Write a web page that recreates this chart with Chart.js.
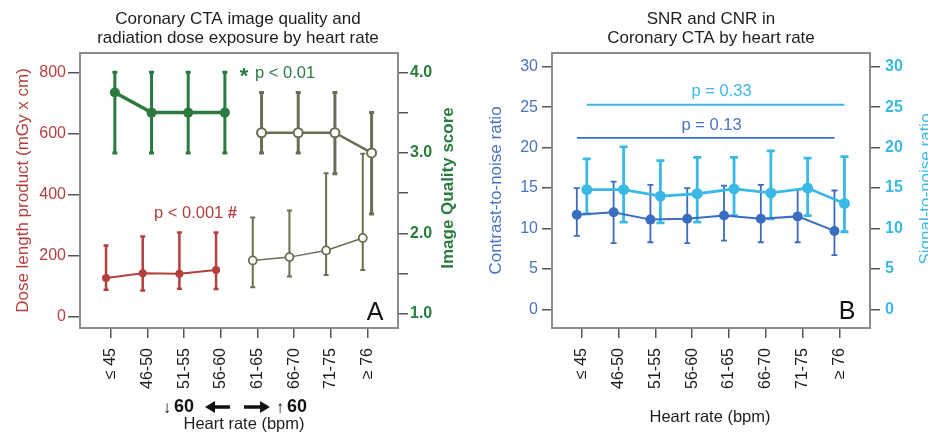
<!DOCTYPE html>
<html><head><meta charset="utf-8">
<script src="https://cdn.jsdelivr.net/npm/chart.js@4"></script>
<style>
html,body{margin:0;padding:0;background:#fff;}
#wrap{position:relative;width:928px;height:440px;overflow:hidden;}
.pane{position:absolute;top:0;width:464px;height:440px;}
#pa{left:0}#pb{left:464px}
</style></head><body>
<div id="wrap"><div class="pane" id="pa"><canvas id="ca"></canvas></div><div class="pane" id="pb"><canvas id="cb"></canvas></div></div>
<script>
// ---------- data ----------
const categories = ['≤ 45','46-50','51-55','56-60','61-65','66-70','71-75','≥ 76'];
const splitIndex = 4; // ≤60 vs >60 bpm
// Panel A: dose length product (mGy x cm)
const dlpMean = [126,142,140,153,184,195,217,258];
const dlpHigh = [233,263,276,276,325,348,471,535];
const dlpLow  = [88,85,91,90,96,131,136,153];
// Panel A: image quality score
const iqMean = [3.75,3.5,3.5,3.5,3.25,3.25,3.25,3.0];
const iqHigh = [4.0,4.0,4.0,4.0,3.75,3.75,3.75,3.5];
const iqLow  = [3.0,3.0,3.0,3.0,3.0,3.0,2.74,2.24];
// Panel B: contrast-to-noise ratio
const cnrMean = [11.7,12.0,11.1,11.2,11.6,11.2,11.5,9.7];
const cnrHigh = [15.0,15.8,15.4,15.0,15.3,15.4,14.8,14.7];
const cnrLow  = [9.1,8.2,8.3,8.2,8.5,8.3,8.3,6.7];
// Panel B: signal-to-noise ratio
const snrMean = [14.8,14.8,14.0,14.3,14.9,14.4,15.0,13.1];
const snrHigh = [18.6,20.1,18.4,18.8,18.8,19.6,18.7,18.9];
const snrLow  = [11.8,10.8,10.7,10.8,11.6,11.2,11.6,9.6];
// tick labels
const dlpTicks = [0,200,400,600,800];
const iqTicks = [1.0,1.5,2.0,2.5,3.0,3.5,4.0];
const ratioTicks = [0,5,10,15,20,25,30];
// significance annotations
const pTextsA = ['p < 0.001', 'p < 0.01'];
const pLabelsB = ['p = 0.13', 'p = 0.33'];
const pLevelsB = [21.2, 25.3];

// ---------- styling ----------
const FAM = "'Liberation Sans', Arial, Helvetica, sans-serif";
Chart.defaults.font.family = FAM;
Chart.defaults.font.size = 16;
Chart.defaults.color = '#222';
Chart.defaults.animation = false;
const C = {red:'#b3403e', olive:'#6d6d54', green:'#2b7b40', blue:'#3a6cc0', blueTxt:'#4a73c0',
           cyan:'#3bb9e6', frame:'#8c8c8c', tick:'#555', text:'#1e1e1e'};

function pts(vals, off, from, to){ const o=[]; for(let i=from;i<to;i++) o.push({x:i+off, y:vals[i]}); return o; }
function errs(hi, lo, from, to, width, cap){ return {hi:hi.slice(from,to), lo:lo.slice(from,to), width, cap}; }

const errorBars = {
  id:'errorBars',
  beforeDatasetsDraw(chart){
    const ctx = chart.ctx, {left,top,right,bottom} = chart.chartArea;
    ctx.save();
    ctx.strokeStyle = C.frame; ctx.lineWidth = 2;
    ctx.strokeRect(left, top, right-left, bottom-top);
    chart.data.datasets.forEach((ds, di) => {
      if (!ds.err) return;
      const meta = chart.getDatasetMeta(di), ys = chart.scales[ds.yAxisID];
      ctx.strokeStyle = ds.borderColor; ctx.lineWidth = ds.err.width; ctx.lineCap = 'butt';
      meta.data.forEach((p, k) => {
        const yh = ys.getPixelForValue(ds.err.hi[k]), yl = ys.getPixelForValue(ds.err.lo[k]), c = ds.err.cap;
        ctx.beginPath();
        ctx.moveTo(p.x, yh); ctx.lineTo(p.x, yl);
        ctx.moveTo(p.x-c, yh); ctx.lineTo(p.x+c, yh);
        ctx.moveTo(p.x-c, yl); ctx.lineTo(p.x+c, yl);
        ctx.stroke();
      });
    });
    ctx.restore();
  }
};

function txt(ctx, s, x, y, font, color, align='center', rot=0){
  ctx.save(); ctx.translate(x,y); if(rot) ctx.rotate(rot);
  ctx.font = font; ctx.fillStyle = color; ctx.textAlign = align; ctx.textBaseline = 'middle';
  ctx.fillText(s, 0, 0); ctx.restore();
}
function arrow(ctx, x1, x2, y, color){
  const dir = Math.sign(x2-x1);
  ctx.save(); ctx.strokeStyle = color; ctx.fillStyle = color; ctx.lineWidth = 3.5;
  ctx.beginPath(); ctx.moveTo(x1,y); ctx.lineTo(x2-dir*7,y); ctx.stroke();
  ctx.beginPath(); ctx.moveTo(x2,y); ctx.lineTo(x2-dir*10,y-6); ctx.lineTo(x2-dir*10,y+6); ctx.closePath(); ctx.fill();
  ctx.restore();
}

function xScale(min, max){
  return { type:'linear', min, max,
    afterBuildTicks: a => { a.ticks = categories.map((_,i)=>({value:i})); },
    afterFit: a => { a.height = 112; },
    ticks: { callback: v => categories[v] ?? '', minRotation:90, maxRotation:90, autoSkip:false, padding:10, color:C.text, font:{size:16} },
    grid: { drawOnChartArea:false, drawTicks:true, tickLength:10, color:C.tick, lineWidth:1.5 },
    border: { display:false }
  };
}
function yScale(pos, min, max, tickVals, width, color, bold, tickLen, pad, cb, title){
  const s = { type:'linear', position:pos, min, max,
    afterBuildTicks: a => { a.ticks = tickVals.map(v=>({value:v})); },
    afterFit: a => { a.width = width; },
    ticks: { color, padding:pad, font:{size:16, weight: bold?'bold':'normal'} },
    grid: { drawOnChartArea:false, drawTicks:true, tickLength:tickLen, color:C.tick, lineWidth:1.5 },
    border: { display:false }
  };
  if (cb) s.ticks.callback = cb;
  if (title) s.title = title;
  return s;
}

// ---------- Panel A ----------
const annotA = {
  id:'annotA',
  afterDraw(chart){
    const ctx = chart.ctx;
    txt(ctx, 'Coronary CTA image quality and', 238, 19, `17px ${FAM}`, C.text);
    txt(ctx, 'radiation dose exposure by heart rate', 238, 38, `17px ${FAM}`, C.text);
    // significance
    txt(ctx, '*', 244, 77, `bold 22px ${FAM}`, C.green);
    txt(ctx, pTextsA[1], 255, 73, `16.5px ${FAM}`, C.green, 'left');
    txt(ctx, pTextsA[0] + ' ', 154, 213, `16.5px ${FAM}`, C.red, 'left');
    ctx.save(); ctx.font = `16.5px ${FAM}`; const w = ctx.measureText(pTextsA[0] + ' ').width; ctx.restore();
    txt(ctx, '#', 154 + w, 213, `bold 16.5px ${FAM}`, C.red, 'left');
    txt(ctx, 'A', 375, 313, `25px ${FAM}`, '#111');
    // right axis title
    txt(ctx, 'Image Quality score', 448, 188, `bold 17px ${FAM}`, C.green, 'center', -Math.PI/2);
    // heart-rate groups
    txt(ctx, '↓', 167, 408, `17px ${FAM}`, '#111');
    txt(ctx, '60', 174, 407, `bold 18px ${FAM}`, '#111', 'left');
    arrow(ctx, 230, 205, 407, '#111');
    arrow(ctx, 244, 270, 407, '#111');
    txt(ctx, '↑', 280, 408, `17px ${FAM}`, '#111');
    txt(ctx, '60', 287, 407, `bold 18px ${FAM}`, '#111', 'left');
    txt(ctx, 'Heart rate (bpm)', 244, 424, `16.5px ${FAM}`, C.text);
  }
};

new Chart(document.getElementById('ca'), {
  type:'line',
  data:{ datasets:[
    {label:'DLP ≤60', data:pts(dlpMean,-0.13,0,splitIndex), yAxisID:'yL', borderColor:C.red, backgroundColor:C.red,
     borderWidth:2, pointRadius:4, pointBackgroundColor:C.red, pointBorderWidth:0, err:errs(dlpHigh,dlpLow,0,splitIndex,2.5,2.5)},
    {label:'DLP >60', data:pts(dlpMean,-0.13,splitIndex,8), yAxisID:'yL', borderColor:C.olive, backgroundColor:'#fff',
     borderWidth:1.5, pointRadius:4, pointBackgroundColor:'#fff', pointBorderColor:C.olive, pointBorderWidth:1.8, err:errs(dlpHigh,dlpLow,splitIndex,8,2,2.5)},
    {label:'IQ ≤60', data:pts(iqMean,0.11,0,splitIndex), yAxisID:'yR', borderColor:C.green, backgroundColor:C.green,
     borderWidth:3.5, pointRadius:5, pointBackgroundColor:C.green, pointBorderWidth:0, err:errs(iqHigh,iqLow,0,splitIndex,3,2.5)},
    {label:'IQ >60', data:pts(iqMean,0.11,splitIndex,8), yAxisID:'yR', borderColor:C.olive, backgroundColor:'#fff',
     borderWidth:2.5, pointRadius:4.5, pointBackgroundColor:'#fff', pointBorderColor:C.olive, pointBorderWidth:2, err:errs(iqHigh,iqLow,splitIndex,8,3,2.5)}
  ]},
  options:{
    responsive:true, maintainAspectRatio:false,
    layout:{padding:{top:53,left:0,right:0,bottom:0}},
    plugins:{legend:{display:false}, tooltip:{enabled:false}},
    scales:{
      x: xScale(-0.84, 7.83),
      yL: yScale('left', -38, 866, dlpTicks, 80, C.red, false, 12, 2, null,
        {display:true, text:'Dose length product (mGy x cm)', color:C.red, font:{size:17}, padding:{top:13,bottom:0}}),
      yR: yScale('right', 0.826, 4.24, iqTicks, 66, C.green, true, 10, 2,
        v => Number.isInteger(v) ? v.toFixed(1) : '')
    }
  },
  plugins:[errorBars, annotA]
});

// ---------- Panel B ----------
const offB = 0.136;
const annotB = {
  id:'annotB',
  afterDraw(chart){
    const ctx = chart.ctx, xs = chart.scales.x, yl = chart.scales.yL, yr = chart.scales.yR;
    txt(ctx, 'SNR and CNR in', 247, 19, `17px ${FAM}`, C.text);
    txt(ctx, 'Coronary CTA by heart rate', 247, 38, `17px ${FAM}`, C.text);
    txt(ctx, pLabelsB[1], xs.getPixelForValue(3.5+offB)+6, yr.getPixelForValue(pLevelsB[1])-13, `16.5px ${FAM}`, C.cyan);
    txt(ctx, pLabelsB[0], xs.getPixelForValue(3.5-offB)+6, yl.getPixelForValue(pLevelsB[0])-12, `16.5px ${FAM}`, C.blueTxt);
    txt(ctx, 'B', 383, 312, `25px ${FAM}`, '#111');
    txt(ctx, 'Signal-to-noise ratio', 462, 189, `17px ${FAM}`, C.cyan, 'center', -Math.PI/2);
    txt(ctx, 'Heart rate (bpm)', 246, 417, `16.5px ${FAM}`, C.text);
  }
};

new Chart(document.getElementById('cb'), {
  type:'line',
  data:{ datasets:[
    {label:'SNR p', data:[{x:0+offB,y:pLevelsB[1]},{x:categories.length-1+offB,y:pLevelsB[1]}], yAxisID:'yR',
     borderColor:C.cyan, borderWidth:1.8, pointRadius:0},
    {label:'CNR p', data:[{x:0-offB,y:pLevelsB[0]},{x:categories.length-1-offB,y:pLevelsB[0]}], yAxisID:'yL',
     borderColor:C.blue, borderWidth:1.8, pointRadius:0},
    {label:'CNR', data:pts(cnrMean,-offB,0,8), yAxisID:'yL', borderColor:C.blue, backgroundColor:C.blue,
     borderWidth:2, pointRadius:5, pointBackgroundColor:C.blue, pointBorderWidth:0, err:errs(cnrHigh,cnrLow,0,8,1.8,3)},
    {label:'SNR', data:pts(snrMean,offB,0,8), yAxisID:'yR', borderColor:C.cyan, backgroundColor:C.cyan,
     borderWidth:2.8, pointRadius:5.5, pointBackgroundColor:C.cyan, pointBorderWidth:0, err:errs(snrHigh,snrLow,0,8,2.8,4)}
  ]},
  options:{
    responsive:true, maintainAspectRatio:false,
    layout:{padding:{top:53,left:0,right:0,bottom:0}},
    plugins:{legend:{display:false}, tooltip:{enabled:false}},
    scales:{
      x: xScale(-0.81, 7.83),
      yL: yScale('left', -2.3, 31.7, ratioTicks, 88, C.blueTxt, false, 10, 4, null,
        {display:true, text:'Contrast-to-noise ratio', color:C.blueTxt, font:{size:17}, padding:{top:22,bottom:0}}),
      yR: yScale('right', -2.3, 31.7, ratioTicks, 58, C.cyan, true, 10, 5, null)
    }
  },
  plugins:[errorBars, annotB]
});
</script>
</body></html>
